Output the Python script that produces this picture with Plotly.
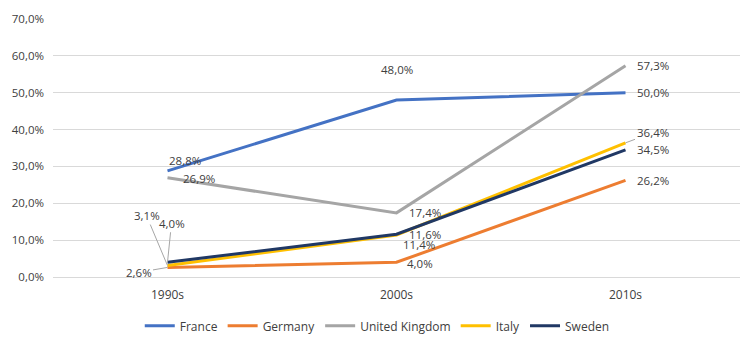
import plotly.graph_objects as go

categories = ["1990s", "2000s", "2010s"]
france = [28.8, 48.0, 50.0]
germany = [2.6, 4.0, 26.2]
uk = [26.9, 17.4, 57.3]
italy = [3.1, 11.4, 36.4]
sweden = [4.0, 11.6, 34.5]
y_ticks = [0, 10, 20, 30, 40, 50, 60, 70]

series = [
    ("France", france, "#4472C4"),
    ("Germany", germany, "#ED7D31"),
    ("United Kingdom", uk, "#A5A5A5"),
    ("Italy", italy, "#FFC000"),
    ("Sweden", sweden, "#203864"),
]

FONT = "Open Sans"
TXT = "#404040"

fig = go.Figure()
for name, vals, col in series:
    fig.add_trace(go.Scatter(x=categories, y=vals, name=name, mode="lines",
                             line=dict(color=col, width=3)))

def fmt(v):
    return f"{v:.1f}%".replace(".", ",")

# label placements: (series values, index, xshift, yshift, arrow ax, ay)
placements = [
    (france, 0, 17, 10, None, None),
    (france, 1, 0, 31, None, None),
    (france, 2, 27, 0, None, None),
    (uk, 0, 31, -1, None, None),
    (uk, 1, 28, 0, None, None),
    (uk, 2, 27, 0, None, None),
    (sweden, 1, 28, 0, None, None),
    (italy, 1, 22, -10, None, None),
    (germany, 1, 23, -1, None, None),
    (italy, 2, None, None, 27, -10),
    (sweden, 2, 27, 0, None, None),
    (germany, 2, 27, 0, None, None),
    (italy, 0, None, None, -21, -50),
    (sweden, 0, None, None, 4, -39),
    (germany, 0, None, None, -29, 5),
]
for vals, i, xs, ys, ax, ay in placements:
    if ax is None:
        fig.add_annotation(x=categories[i], y=vals[i], text=fmt(vals[i]),
                           showarrow=False, xshift=xs, yshift=ys,
                           font=dict(family=FONT, size=11.5, color=TXT))
    else:
        fig.add_annotation(x=categories[i], y=vals[i], text=fmt(vals[i]),
                           showarrow=True, ax=ax, ay=ay, arrowhead=0,
                           arrowwidth=1, arrowcolor="#A6A6A6", standoff=0,
                           font=dict(family=FONT, size=11.5, color=TXT))

fig.update_layout(
    width=748, height=344,
    margin=dict(l=53, r=8, t=19, b=67, autoexpand=False),
    paper_bgcolor="white", plot_bgcolor="white",
    font=dict(family=FONT, size=11, color=TXT),
    showlegend=True,
    legend=dict(orientation="h", x=0.472, xanchor="center", y=-0.133,
                yanchor="top", itemwidth=30, tracegroupgap=0,
                font=dict(family=FONT, size=12, color=TXT)),
    xaxis=dict(type="category", range=[-0.5, 2.5], showgrid=False, showline=True,
               linecolor="#D9D9D9", ticks="", ticklabelstandoff=7, automargin=False,
               tickfont=dict(size=12, color=TXT)),
    yaxis=dict(range=[0, 70], tickvals=y_ticks, ticktext=[fmt(v) for v in y_ticks],
               showgrid=True, gridcolor="#D9D9D9", gridwidth=1, zeroline=False,
               showline=False, ticks="", ticklabelstandoff=8, automargin=False,
               tickfont=dict(size=11.5, color=TXT)),
)

fig.write_html("out.html")
